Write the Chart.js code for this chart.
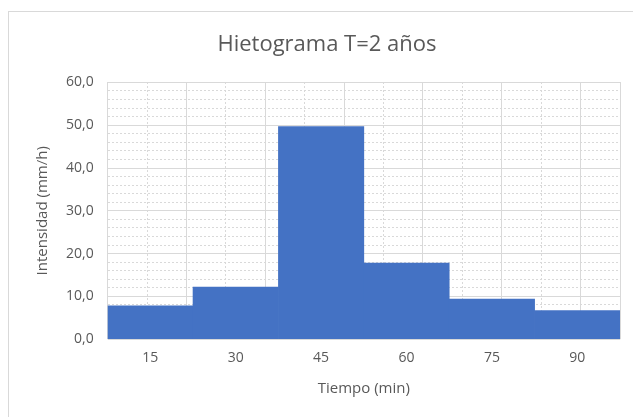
<!DOCTYPE html>
<html>
<head>
<meta charset="utf-8">
<script src="https://cdn.jsdelivr.net/npm/chart.js@4/dist/chart.umd.min.js"></script>
<style>
  html, body { margin: 0; padding: 0; background: #fff; overflow: hidden; }
  #frame {
    position: absolute; left: 8px; top: 11px; width: 640px; height: 420px;
    border: 1px solid #d9d9d9; box-sizing: border-box;
  }
  #wrap { position: absolute; left: 8px; top: 11px; width: 634px; height: 406px; }
</style>
</head>
<body>
<div id="frame"></div>
<div id="wrap"><canvas id="hietograma"></canvas></div>
<script>
// datos del hietograma
const tiempos = ['15', '30', '45', '60', '75', '90'];
const intensidades = [7.8, 12.2, 49.7, 17.8, 9.4, 6.7];
const yMin = 0;
const yMax = 60;

const textColor = '#595959';
const gridColor = '#d9d9d9';
const fontFamily = "'Open Sans', 'Liberation Sans', sans-serif";

const ctx = document.getElementById('hietograma');

new Chart(ctx, {
    type: 'bar',
    data: {
        labels: tiempos,
        datasets: [{
            label: 'Intensidad',
            data: intensidades,
            backgroundColor: '#4472C4',
            borderWidth: 0,
            categoryPercentage: 1.0,
            barPercentage: 1.0,
        }],
    },
    options: {
        responsive: true,
        maintainAspectRatio: false,
        animation: false,
        layout: {
            padding: { left: 26, right: 22, top: 15, bottom: 15 }
        },
        plugins: {
            legend: { display: false },
            tooltip: { enabled: false },
            title: {
                display: true,
                text: 'Hietograma T=2 años',
                color: textColor,
                font: { family: fontFamily, size: 22, weight: 'normal' },
                padding: { top: 6, bottom: 24 }
            }
        },
        scales: {
            x: {
                grid: { display: false },
                border: { display: false },
                ticks: {
                    color: textColor,
                    font: { family: fontFamily, size: 14 },
                    padding: 2,
                },
                title: {
                    display: true,
                    text: 'Tiempo (min)',
                    color: textColor,
                    font: { family: fontFamily, size: 15 },
                    padding: { top: 12 }
                }
            },
            // rejilla vertical: límites sólidos, centros punteados
            xg: {
                type: 'linear',
                position: 'top',
                min: 0,
                max: tiempos.length * 2,
                ticks: { display: false, stepSize: 1 },
                grid: { color: gridColor, lineWidth: 1, drawTicks: false },
                border: {
                    display: false,
                    dash: c => (c.tick && c.tick.value % 2) ? [2, 2] : []
                }
            },
            y: {
                min: yMin,
                max: yMax,
                ticks: {
                    stepSize: 2,
                    autoSkip: false,
                    maxTicksLimit: 100,
                    color: textColor,
                    font: { family: fontFamily, size: 14 },
                    padding: 14,
                    callback: v => (v % 10 === 0) ? v.toFixed(1).replace('.', ',') : ''
                },
                grid: { color: gridColor, lineWidth: 1, drawTicks: false },
                border: {
                    display: false,
                    dash: c => (c.tick && c.tick.value % 10) ? [2, 2] : []
                },
                title: {
                    display: true,
                    text: 'Intensidad (mm/h)',
                    color: textColor,
                    font: { family: fontFamily, size: 15 },
                    padding: { top: 0, bottom: 0 }
                }
            }
        }
    }
});
</script>
</body>
</html>
